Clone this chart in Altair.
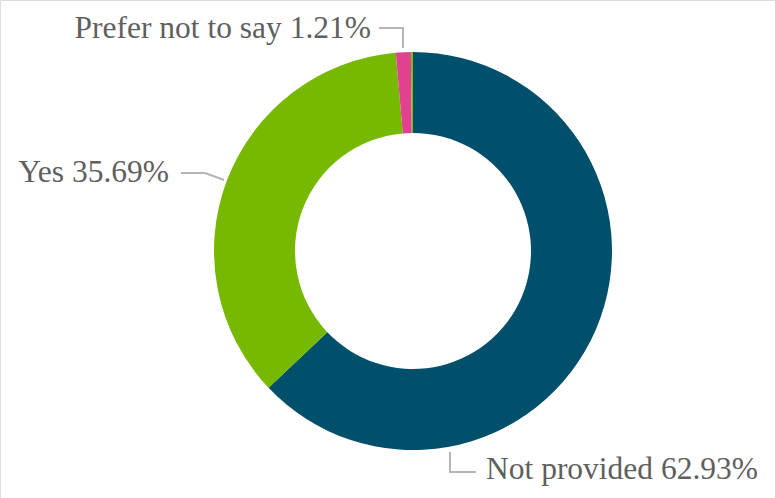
import altair as alt
import pandas as pd

categories = ["Not provided", "Yes", "Prefer not to say", "No"]
values = [62.93, 35.69, 1.21, 0.17]
colors = ["#004f6b", "#76b900", "#e2418f", "#7dbb10"]
show_label = [True, True, True, False]

# label layout (pixel positions) for labelled slices
label_x = {"Not provided": 486, "Yes": 169, "Prefer not to say": 371}
label_y = {"Not provided": 479, "Yes": 182, "Prefer not to say": 38}
label_align = {"Not provided": "left", "Yes": "right", "Prefer not to say": "right"}

# leader line paths
leaders = {
    "Not provided": [(450, 452), (450, 472), (476, 472)],
    "Yes": [(181, 173), (205, 173), (224, 180)],
    "Prefer not to say": [(379, 28), (403, 28), (403, 48)],
}

df = pd.DataFrame({
    "category": categories,
    "value": values,
    "order": list(range(len(categories))),
})

lab_rows = []
for c, v, s in zip(categories, values, show_label):
    if s:
        lab_rows.append({
            "category": c,
            "text": f"{c} {v:.2f}%",
            "lx": label_x[c],
            "ly": label_y[c],
            "align": label_align[c],
        })
labels = pd.DataFrame(lab_rows)

line_rows = []
for c, pts in leaders.items():
    for i, (px, py) in enumerate(pts):
        line_rows.append({"category": c, "i": i, "px": px, "py": py})
lines = pd.DataFrame(line_rows)

arc = alt.Chart(df).mark_arc(innerRadius=118, outerRadius=199).encode(
    theta=alt.Theta("value:Q", stack=True),
    order=alt.Order("order:Q"),
    color=alt.Color("category:N", scale=alt.Scale(domain=categories, range=colors), legend=None),
    x=alt.value(413),
    y=alt.value(251),
)

leader = alt.Chart(lines).mark_line(color="#b5b5b5", strokeWidth=2).encode(
    x=alt.X("px:Q", scale=None),
    y=alt.Y("py:Q", scale=None),
    detail="category:N",
    order="i:Q",
)

def text_layer(align):
    return alt.Chart(labels).transform_filter(
        alt.datum.align == align
    ).mark_text(
        align=align, baseline="alphabetic",
        font="Liberation Serif",
        fontSize=31.5, color="#5f5f5f",
    ).encode(
        x=alt.X("lx:Q", scale=None),
        y=alt.Y("ly:Q", scale=None),
        text="text:N",
    )

chart = alt.layer(arc, leader, text_layer("left"), text_layer("right")).properties(
    width=775, height=498, padding=0, autosize=alt.AutoSizeParams(type="none"),
).configure_view(stroke=None).configure(background="white")

chart.save("out.html", embed_options={"renderer": "svg", "actions": False})
